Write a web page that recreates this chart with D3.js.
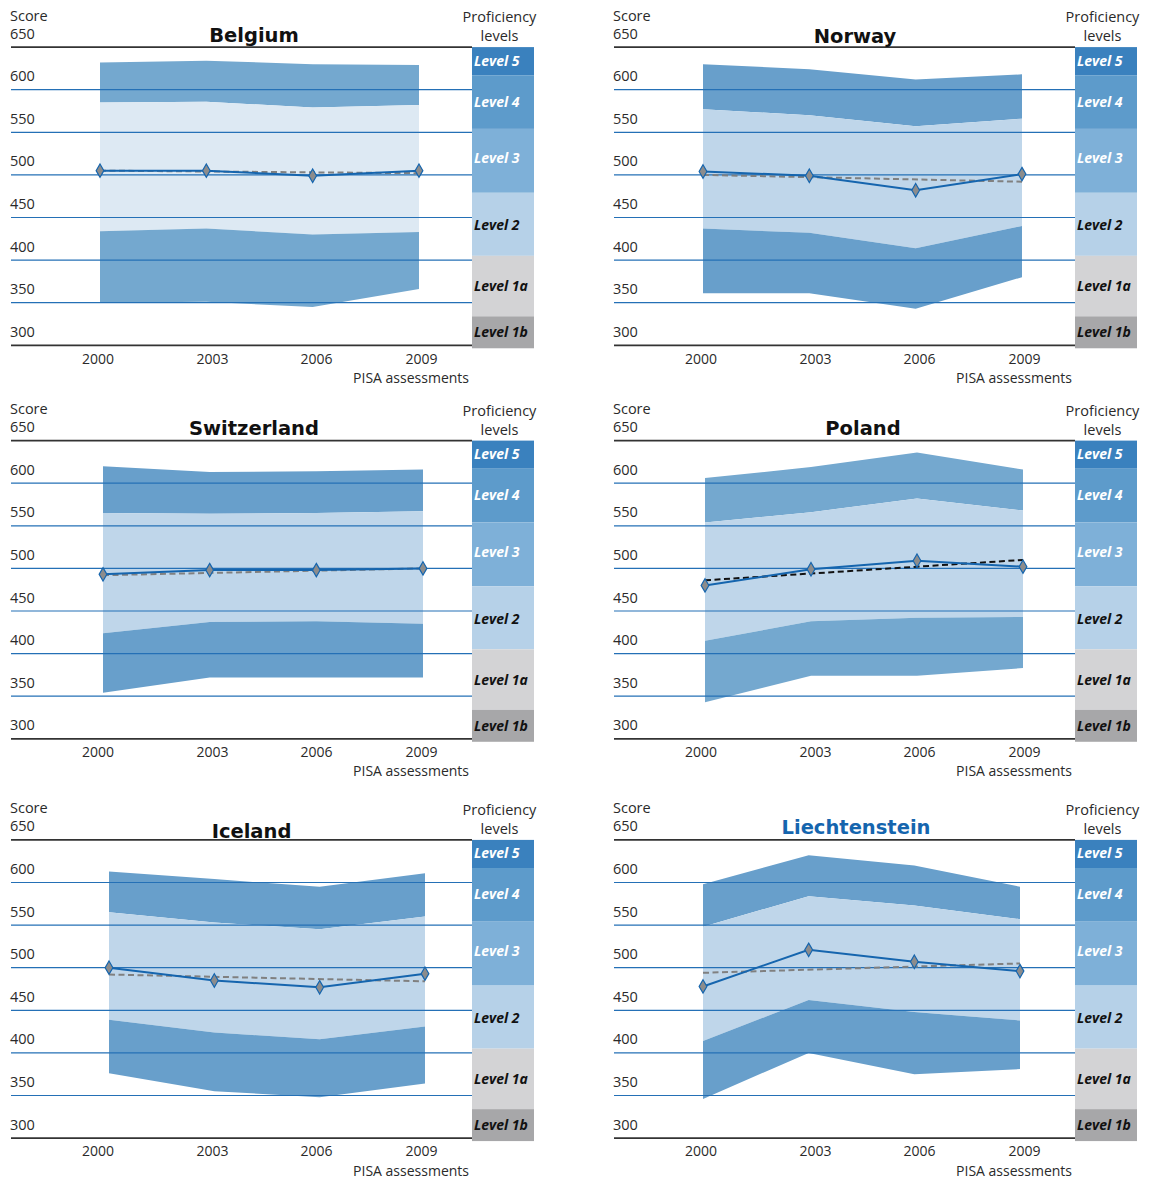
<!DOCTYPE html>
<html>
<head>
<meta charset="utf-8">
<script src="https://cdn.jsdelivr.net/npm/d3@7"></script>
<style>
  body { margin: 0; background: #ffffff; }
  svg { display: block; }
</style>
</head>
<body>
<script>
// ---------------- DATA ----------------
const years = [2000, 2003, 2006, 2009];
const countries = ["Belgium", "Norway", "Switzerland", "Poland", "Iceland", "Liechtenstein"];

// upper edge of upper dark band
const scoreHigh = [
  [632, 634, 630, 629],
  [630, 624, 612, 618],
  [620, 613, 614, 616],
  [606, 619, 636, 616],
  [613, 604, 595, 611],
  [598, 632, 620, 595]
];
// boundary upper dark band / middle band
const scoreUpperMid = [
  [585, 586, 579, 582],
  [577, 570, 557, 566],
  [565, 564, 565, 567],
  [554, 566, 582, 568],
  [565, 553, 545, 560],
  [548, 584, 573, 557]
];
// boundary middle band / lower dark band
const scoreLowerMid = [
  [434, 437, 430, 433],
  [437, 432, 414, 440],
  [424, 437, 438, 435],
  [415, 438, 442, 443],
  [439, 424, 416, 431],
  [414, 462, 448, 438]
];
// lower edge of lower dark band
const scoreLow = [
  [350, 351, 345, 366],
  [361, 361, 343, 380],
  [354, 372, 372, 372],
  [343, 374, 374, 383],
  [376, 355, 348, 364],
  [346, 400, 375, 381]
];
// mean score
const meanScore = [
  [505, 505, 499, 505],
  [504, 499, 482, 501],
  [493, 498, 498, 500],
  [480, 499, 509, 502],
  [500, 485, 477, 493],
  [478, 521, 507, 496]
];
// trend line (start 2000, end 2009)
const trendStart = [505, 500, 492, 486, 492, 494];
const trendEnd   = [502, 492, 500, 510, 484, 505];

const yTicks = [300, 350, 400, 450, 500, 550, 600, 650];
const gridValues = [350, 400, 450, 500, 550, 600];
const levelLabels = ["Level 5", "Level 4", "Level 3", "Level 2", "Level 1a", "Level 1b"];
const levelBounds = [650, 617, 554, 479, 405, 334, 296.5];

// ---------------- STYLE / LAYOUT ----------------
const levelColors = ["#3a81be", "#5d9bcb", "#7eb0d8", "#b6d1e8", "#d3d3d5", "#a7a7a9"];
const levelTextColors = ["#ffffff", "#ffffff", "#ffffff", "#111111", "#111111", "#111111"];
const levelTextDy = [4.5, 4.5, 2.5, 6, 5, 5];
const darkBand = ["#74a8cf", "#689fcb", "#689fcb", "#74a8cf", "#689fcb", "#689fcb"];
const lightBand = ["#dde9f3", "#bfd6ea", "#bfd6ea", "#bfd6ea", "#bfd6ea", "#bfd6ea"];
const trendColor = ["#808080", "#808080", "#808080", "#111111", "#808080", "#808080"];
const titleColor = ["#111", "#111", "#111", "#111", "#111", "#1565ae"];
const xRanges = [[100, 419], [100, 419], [103, 423], [102, 420], [109, 425], [100, 417]];
const yearLabelX = [98, 212.5, 316.5, 421.5];
const colX = [0, 603];
const rowY = [0, 393.5, 792.8];
const titleX = [254, 252, 254, 260, 251.5, 253];
const titleDy = [0, 1, 0, 0, 4, 0];

const font = "'Open Sans', 'Noto Sans', sans-serif";
const textColor = "#2a2a2a";

const svg = d3.select("body").append("svg")
  .attr("width", 1151).attr("height", 1180);

countries.forEach((country, i) => {
  const col = i % 2, row = Math.floor(i / 2);
  const g = svg.append("g").attr("transform", `translate(${colX[col]},${rowY[row]})`);

  const y = d3.scaleLinear().domain([300, 650]).range([345.3, 47.1]);
  const x = d3.scaleLinear().domain([2000, 2009]).range(xRanges[i]);
  const xLab = d3.scaleOrdinal().domain(years).range(yearLabelX);

  const rows = years.map((yr, k) => ({
    year: yr,
    high: scoreHigh[i][k],
    um: scoreUpperMid[i][k],
    lm: scoreLowerMid[i][k],
    low: scoreLow[i][k],
    mean: meanScore[i][k]
  }));

  // bands
  const area = (a, b) => d3.area().x(d => x(d.year)).y0(d => y(d[a])).y1(d => y(d[b])).curve(d3.curveLinear);
  g.append("path").datum(rows).attr("d", area("um", "high")).attr("fill", darkBand[i]);
  g.append("path").datum(rows).attr("d", area("lm", "um")).attr("fill", lightBand[i]);
  g.append("path").datum(rows).attr("d", area("low", "lm")).attr("fill", darkBand[i]);

  // grid lines
  g.selectAll("line.grid").data(gridValues).enter().append("line")
    .attr("x1", 11).attr("x2", 472)
    .attr("y1", d => y(d)).attr("y2", d => y(d))
    .attr("stroke", "#2470b6").attr("stroke-width", 1.2);
  [300, 650].forEach(v => {
    g.append("line").attr("x1", 11).attr("x2", 472)
      .attr("y1", y(v)).attr("y2", y(v))
      .attr("stroke", "#333").attr("stroke-width", 1.8);
  });

  // y tick labels
  g.selectAll("text.ytick").data(yTicks).enter().append("text")
    .attr("x", 10).attr("y", d => y(d) - 8.5)
    .attr("font-family", font).attr("font-size", 14.5).attr("fill", textColor)
    .text(d => d);
  g.append("text").attr("x", 10).attr("y", 20.5)
    .attr("font-family", font).attr("font-size", 14.5).attr("fill", textColor)
    .text("Score");

  // title
  g.append("text").attr("x", titleX[i]).attr("y", 41.5 + titleDy[i])
    .attr("text-anchor", "middle")
    .attr("font-family", "'DejaVu Sans', Verdana, sans-serif").attr("font-weight", "bold")
    .attr("font-size", 19.5).attr("fill", titleColor[i])
    .text(country);

  // proficiency legend
  g.append("text").attr("x", 499.5).attr("y", 22)
    .attr("text-anchor", "middle").attr("font-family", font).attr("font-size", 14.5).attr("fill", textColor)
    .text("Proficiency");
  g.append("text").attr("x", 499.5).attr("y", 41)
    .attr("text-anchor", "middle").attr("font-family", font).attr("font-size", 14.5).attr("fill", textColor)
    .text("levels");
  levelLabels.forEach((lab, k) => {
    const y0 = y(levelBounds[k]), y1 = y(levelBounds[k + 1]);
    g.append("rect").attr("x", 472).attr("y", y0).attr("width", 62).attr("height", y1 - y0)
      .attr("fill", levelColors[k]);
    g.append("text").attr("x", 474).attr("y", (y0 + y1) / 2 + levelTextDy[k])
      .attr("font-family", font).attr("font-weight", "bold").attr("font-style", "italic")
      .attr("font-size", 14).attr("fill", levelTextColors[k])
      .text(lab);
  });

  // year labels
  g.selectAll("text.xtick").data(years).enter().append("text")
    .attr("x", d => xLab(d)).attr("y", 363.5)
    .attr("text-anchor", "middle")
    .attr("font-family", font).attr("font-size", 14).attr("fill", textColor)
    .text(d => d);
  g.append("text").attr("x", 469).attr("y", 382.8)
    .attr("text-anchor", "end")
    .attr("font-family", font).attr("font-size", 14).attr("fill", textColor)
    .text("PISA assessments");

  // trend line
  g.append("line")
    .attr("x1", x(2000)).attr("y1", y(trendStart[i]))
    .attr("x2", x(2009)).attr("y2", y(trendEnd[i]))
    .attr("stroke", trendColor[i]).attr("stroke-width", 2)
    .attr("stroke-dasharray", "6,3.5");

  // mean line
  g.append("path").datum(rows)
    .attr("d", d3.line().x(d => x(d.year)).y(d => y(d.mean)))
    .attr("fill", "none").attr("stroke", "#1565ae").attr("stroke-width", 2);
  g.selectAll("path.dia").data(rows).enter().append("path")
    .attr("d", d3.symbol().type(d3.symbolDiamond).size(52))
    .attr("transform", d => `translate(${x(d.year)},${y(d.mean)})`)
    .attr("fill", "#8c8c8c").attr("stroke", "#1565ae").attr("stroke-width", 1.2);
});
</script>
</body>
</html>
